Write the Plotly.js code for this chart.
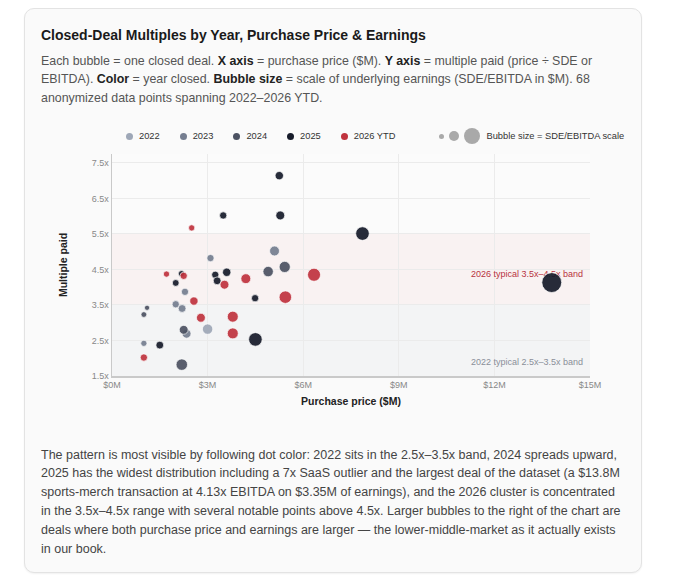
<!DOCTYPE html>
<html>
<head>
<meta charset="utf-8">
<script src="https://cdn.plot.ly/plotly-3.0.1.min.js"></script>
<style>
html, body { margin: 0; padding: 0; background: #fff; width: 680px; height: 587px; overflow: hidden;
  font-family: "Liberation Sans", Arial, Helvetica, sans-serif; }
#card { position: absolute; left: 24px; top: 8px; width: 616px; height: 563px; border: 1px solid #e3e3e3;
  border-radius: 10px; background: #fafafa; box-shadow: 0 1px 2px rgba(0,0,0,0.06); }
.txt { position: absolute; left: 41px; white-space: nowrap; }
#title { top: 26px; font-size: 14px; line-height: 18px; font-weight: bold; color: #1a1a1a; }
#desc { top: 51.7px; font-size: 12.4px; line-height: 18.7px; color: #555; }
#desc b { color: #222; }
#note { top: 445.6px; font-size: 12.5px; line-height: 18.8px; color: #444; }
#legend { position: absolute; left: 126px; top: 129px; height: 14px; display: flex; align-items: center;
  font-size: 9.3px; color: #333; white-space: nowrap; }
#legend .dot { display: inline-block; width: 7px; height: 7px; border-radius: 50%; margin-right: 6px; }
#legend .item { display: flex; align-items: center; margin-right: 20px; }
#legend .sz { display: inline-block; border-radius: 50%; background: #a9a9a9; margin-right: 5px; }
#chart { position: absolute; left: 41px; top: 145px; width: 590px; height: 270px; }
</style>
</head>
<body>
<div id="card"></div>
<div id="title" class="txt">Closed-Deal Multiples by Year, Purchase Price &amp; Earnings</div>
<div id="desc" class="txt">Each bubble = one closed deal. <b>X axis</b> = purchase price ($M). <b>Y axis</b> = multiple paid (price ÷ SDE or<br>EBITDA). <b>Color</b> = year closed. <b>Bubble size</b> = scale of underlying earnings (SDE/EBITDA in $M). 68<br>anonymized data points spanning 2022–2026 YTD.</div>
<div id="legend"></div>
<div id="chart"></div>
<div id="note" class="txt">The pattern is most visible by following dot color: 2022 sits in the 2.5x–3.5x band, 2024 spreads upward,<br>2025 has the widest distribution including a 7x SaaS outlier and the largest deal of the dataset (a $13.8M<br>sports-merch transaction at 4.13x EBITDA on $3.35M of earnings), and the 2026 cluster is concentrated<br>in the 3.5x–4.5x range with several notable points above 4.5x. Larger bubbles to the right of the chart are<br>deals where both purchase price and earnings are larger — the lower-middle-market as it actually exists<br>in our book.</div>
<script>
// price ($M), multiple (x), earnings ($M) per year
var years = ['2022', '2023', '2024', '2025', '2026 YTD'];
var colors = ['#9ea7b7', '#757e90', '#4c5262', '#161b2a', '#c0333e'];

var price2022 = [3.0];
var mult2022 = [2.82];
var earn2022 = [0.92];

var price2023 = [3.09, 2.29, 2.0, 2.2, 2.34, 1.0, 5.1];
var mult2023 = [4.82, 3.87, 3.52, 3.40, 2.69, 2.42, 5.02];
var earn2023 = [0.45, 0.45, 0.45, 0.52, 0.67, 0.33, 0.83];

var price2024 = [4.9, 5.42, 1.1, 1.0, 2.25, 2.19];
var mult2024 = [4.44, 4.57, 3.42, 3.23, 2.80, 1.82];
var earn2024 = [0.92, 1.06, 0.23, 0.28, 0.67, 1.12];

var price2025 = [5.25, 3.49, 5.28, 7.86, 2.18, 2.0, 3.24, 3.6, 3.3, 4.49, 4.5, 1.5, 13.8];
var mult2025 = [7.14, 6.02, 6.02, 5.51, 4.38, 4.12, 4.35, 4.42, 4.18, 3.69, 2.53, 2.37, 4.13];
var earn2025 = [0.59, 0.45, 0.67, 1.56, 0.33, 0.39, 0.45, 0.59, 0.52, 0.45, 1.56, 0.52, 3.35];

var price2026 = [2.5, 1.71, 2.25, 3.53, 4.2, 6.34, 2.57, 5.44, 2.79, 3.79, 3.79, 1.0];
var mult2026 = [5.67, 4.37, 4.32, 4.07, 4.24, 4.35, 3.61, 3.72, 3.14, 3.17, 2.70, 2.02];
var earn2026 = [0.33, 0.33, 0.45, 0.67, 0.83, 1.44, 0.59, 1.33, 0.67, 1.02, 1.02, 0.45];

var xTicks = [0, 3, 6, 9, 12, 15];
var xTickText = ['$0M', '$3M', '$6M', '$9M', '$12M', '$15M'];
var yTicks = [1.5, 2.5, 3.5, 4.5, 5.5, 6.5, 7.5];
var yTickText = ['1.5x', '2.5x', '3.5x', '4.5x', '5.5x', '6.5x', '7.5x'];

var bandLabels = ['2026 typical 3.5x–4.5x band', '2022 typical 2.5x–3.5x band'];
var bandLabelY = [4.35, 1.86];

var prices = [price2022, price2023, price2024, price2025, price2026];
var mults = [mult2022, mult2023, mult2024, mult2025, mult2026];
var earns = [earn2022, earn2023, earn2024, earn2025, earn2026];

// legend (html, like the original card)
var leg = document.getElementById('legend');
years.forEach(function (y, i) {
  var it = document.createElement('span');
  it.className = 'item';
  it.innerHTML = '<span class="dot" style="background:' + colors[i] + '"></span>' + y;
  leg.appendChild(it);
});
var sizes = [5, 10, 16];
var szWrap = document.createElement('span');
szWrap.className = 'item';
szWrap.style.marginLeft = '24px';
sizes.forEach(function (s) {
  szWrap.innerHTML += '<span class="sz" style="width:' + s + 'px;height:' + s + 'px"></span>';
});
szWrap.innerHTML += '<span style="margin-left:1px">Bubble size = SDE/EBITDA scale</span>';
leg.appendChild(szWrap);

var data = [{
  x: [14.78, 14.78],
  y: bandLabelY,
  text: bandLabels,
  mode: 'text',
  textposition: 'middle left',
  textfont: { size: 9, color: ['#b8323f', '#8a8f99'] },
  hoverinfo: 'skip'
}];

years.forEach(function (y, i) {
  data.push({
    x: prices[i],
    y: mults[i],
    name: y,
    mode: 'markers',
    type: 'scatter',
    marker: {
      size: earns[i],
      sizemode: 'area',
      sizeref: 0.017,
      color: colors[i],
      opacity: 0.92,
      line: { width: 1, color: 'rgba(255,255,255,0.7)' }
    }
  });
});

var layout = {
  width: 590,
  height: 270,
  margin: { l: 71, r: 41, t: 9, b: 39 },
  paper_bgcolor: 'rgba(0,0,0,0)',
  plot_bgcolor: '#fbfbfb',
  showlegend: false,
  font: { family: 'Liberation Sans, Arial, sans-serif', size: 9, color: '#888' },
  xaxis: {
    range: [0, 15],
    tickvals: xTicks,
    ticktext: xTickText,
    showgrid: true,
    gridcolor: '#ebebeb',
    showline: true,
    linecolor: '#c9c9c9',
    linewidth: 1.5,
    zeroline: false,
    ticks: '',
    title: { text: 'Purchase price ($M)', font: { size: 10.5, color: '#222', weight: 'bold' }, standoff: 8 }
  },
  yaxis: {
    range: [1.5, 7.75],
    tickvals: yTicks,
    ticktext: yTickText,
    showgrid: true,
    gridcolor: '#ebebeb',
    showline: true,
    linecolor: '#c9c9c9',
    linewidth: 1.5,
    zeroline: false,
    ticks: '',
    title: { text: 'Multiple paid', font: { size: 10.5, color: '#222', weight: 'bold' }, standoff: 22 }
  },
  shapes: [
    { type: 'rect', xref: 'paper', x0: 0, x1: 1, yref: 'y', y0: 3.5, y1: 5.5,
      fillcolor: 'rgba(220,38,38,0.045)', line: { width: 0 }, layer: 'below' },
    { type: 'rect', xref: 'paper', x0: 0, x1: 1, yref: 'y', y0: 1.5, y1: 3.5,
      fillcolor: 'rgba(100,116,139,0.05)', line: { width: 0 }, layer: 'below' }
  ]
};

Plotly.newPlot('chart', data, layout, { displayModeBar: false, staticPlot: true });
</script>
</body>
</html>
